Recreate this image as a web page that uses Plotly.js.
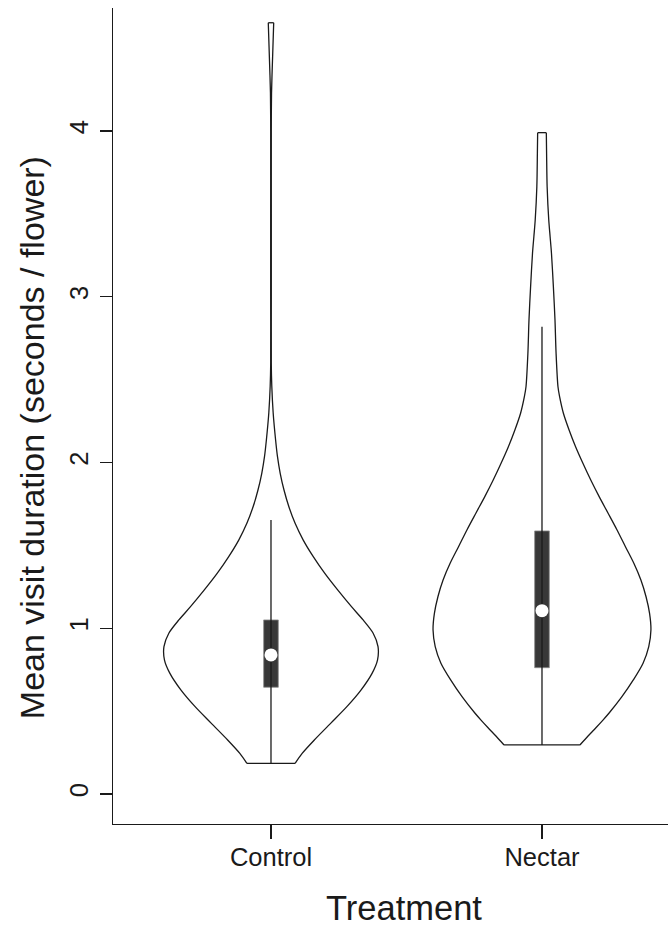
<!DOCTYPE html>
<html>
<head>
<meta charset="utf-8">
<script src="https://cdn.plot.ly/plotly-3.0.1.min.js"></script>
<style>
  html, body { margin: 0; padding: 0; background: #fff; }
  #chart { width: 668px; height: 926px; }
</style>
</head>
<body>
<div id="chart"></div>
<script>
// ---- Data ----
const categories = ['Control', 'Nectar'];
const yTickVals = [0, 1, 2, 3, 4];
const yTickText = ['0', '1', '2', '3', '4'];

// Violin outline: value levels and density half-widths (in x-axis units)
const controlLevels = [0.185, 0.245, 0.326, 0.426, 0.527, 0.627, 0.728, 0.808, 0.889, 0.970, 1.050, 1.130, 1.231, 1.332, 1.432, 1.532, 1.633, 1.733, 1.834, 1.935, 2.035, 2.136, 2.30, 2.46, 2.60, 3.00, 3.50, 4.00, 4.23, 4.45, 4.653];
const controlHalfWidth = [0.089, 0.115, 0.160, 0.220, 0.280, 0.332, 0.373, 0.393, 0.395, 0.377, 0.340, 0.297, 0.246, 0.198, 0.156, 0.119, 0.089, 0.066, 0.048, 0.034, 0.024, 0.017, 0.008, 0.003, 0.001, 0.001, 0.001, 0.001, 0.002, 0.006, 0.010];

const nectarLevels = [0.296, 0.350, 0.400, 0.446, 0.487, 0.587, 0.688, 0.789, 0.889, 0.989, 1.090, 1.190, 1.291, 1.392, 1.492, 1.593, 1.694, 1.794, 1.894, 1.995, 2.095, 2.196, 2.297, 2.397, 2.457, 2.659, 2.860, 3.061, 3.262, 3.362, 3.463, 3.664, 3.865, 3.990];
const nectarHalfWidth = [0.140, 0.170, 0.199, 0.225, 0.247, 0.295, 0.337, 0.373, 0.394, 0.402, 0.397, 0.384, 0.365, 0.339, 0.308, 0.277, 0.244, 0.211, 0.180, 0.151, 0.124, 0.100, 0.079, 0.065, 0.059, 0.052, 0.048, 0.042, 0.035, 0.030, 0.025, 0.019, 0.017, 0.016];

// Box-plot summaries
const q1 = [0.644, 0.762];
const q3 = [1.050, 1.587];
const medians = [0.839, 1.106];
const whiskerLow = [0.185, 0.296];
const whiskerHigh = [1.653, 2.819];

// ---- Build traces ----
const lineColor = '#1a1a1a';
const lw = 1.3;
const traces = [];
const shapes = [];
const levelsAll = [controlLevels, nectarLevels];
const halfAll = [controlHalfWidth, nectarHalfWidth];
const boxHalf = 0.027;

categories.forEach((cat, i) => {
  const c = i + 1;
  const lv = levelsAll[i], hw = halfAll[i];
  const n = lv.length;
  traces.push({type: 'scatter', mode: 'lines', x: hw.map(h => c + h), y: lv,
    line: {color: lineColor, width: lw, shape: 'spline', smoothing: 0.8}, hoverinfo: 'skip'});
  traces.push({type: 'scatter', mode: 'lines', x: hw.map(h => c - h), y: lv,
    line: {color: lineColor, width: lw, shape: 'spline', smoothing: 0.8}, hoverinfo: 'skip'});
  traces.push({type: 'scatter', mode: 'lines', x: [c - hw[0], c + hw[0]], y: [lv[0], lv[0]],
    line: {color: lineColor, width: lw}, hoverinfo: 'skip'});
  traces.push({type: 'scatter', mode: 'lines', x: [c - hw[n - 1], c + hw[n - 1]], y: [lv[n - 1], lv[n - 1]],
    line: {color: lineColor, width: lw}, hoverinfo: 'skip'});
  traces.push({type: 'scatter', mode: 'lines', x: [c, c], y: [whiskerLow[i], whiskerHigh[i]],
    line: {color: lineColor, width: lw}, hoverinfo: 'skip'});
  shapes.push({type: 'rect', xref: 'x', yref: 'y', x0: c - boxHalf, x1: c + boxHalf, y0: q1[i], y1: q3[i],
    fillcolor: '#383838', line: {color: '#8a8a8a', width: 0.8}, layer: 'below'});
});

// medians (white dots)
traces.push({type: 'scatter', mode: 'markers', x: [1, 2], y: medians,
  marker: {color: '#ffffff', size: 13, line: {width: 0}}, hoverinfo: 'skip'});

const fontFam = 'Liberation Sans, Arial, Helvetica, sans-serif';

const layout = {
  width: 668, height: 926,
  margin: {l: 113, r: 0, t: 8, b: 102},
  paper_bgcolor: '#ffffff', plot_bgcolor: 'rgba(0,0,0,0)',
  showlegend: false,
  font: {family: fontFam, color: '#1a1a1a'},
  xaxis: {
    range: [0.417, 2.465], tickvals: [1, 2], ticktext: categories,
    showgrid: false, zeroline: false, showline: true, linecolor: lineColor, linewidth: lw,
    ticks: 'outside', ticklen: 14, tickwidth: lw, tickcolor: lineColor,
    tickfont: {size: 25.5, family: fontFam, color: '#1a1a1a'}, ticklabelstandoff: -4
  },
  yaxis: {
    range: [-0.181, 4.742], tickvals: yTickVals, ticktext: yTickText, tickangle: -90,
    showgrid: false, zeroline: false, showline: true, linecolor: lineColor, linewidth: lw,
    ticks: 'outside', ticklen: 12, tickwidth: lw, tickcolor: lineColor,
    tickfont: {size: 25.5, family: fontFam, color: '#1a1a1a'}, ticklabelstandoff: 2
  },
  shapes: shapes,
  annotations: [
    {text: 'Treatment', xref: 'paper', yref: 'paper', x: 0.524, y: -0.103,
     xanchor: 'center', yanchor: 'middle', showarrow: false,
     font: {size: 34.5, family: fontFam, color: '#1a1a1a'}},
    {text: 'Mean visit duration (seconds / flower)', xref: 'paper', yref: 'paper', x: -0.146, y: 0.474,
     xanchor: 'center', yanchor: 'middle', textangle: -90, showarrow: false,
     font: {size: 34, family: fontFam, color: '#1a1a1a'}}
  ]
};

Plotly.newPlot('chart', traces, layout, {staticPlot: true, displayModeBar: false});
</script>
</body>
</html>
